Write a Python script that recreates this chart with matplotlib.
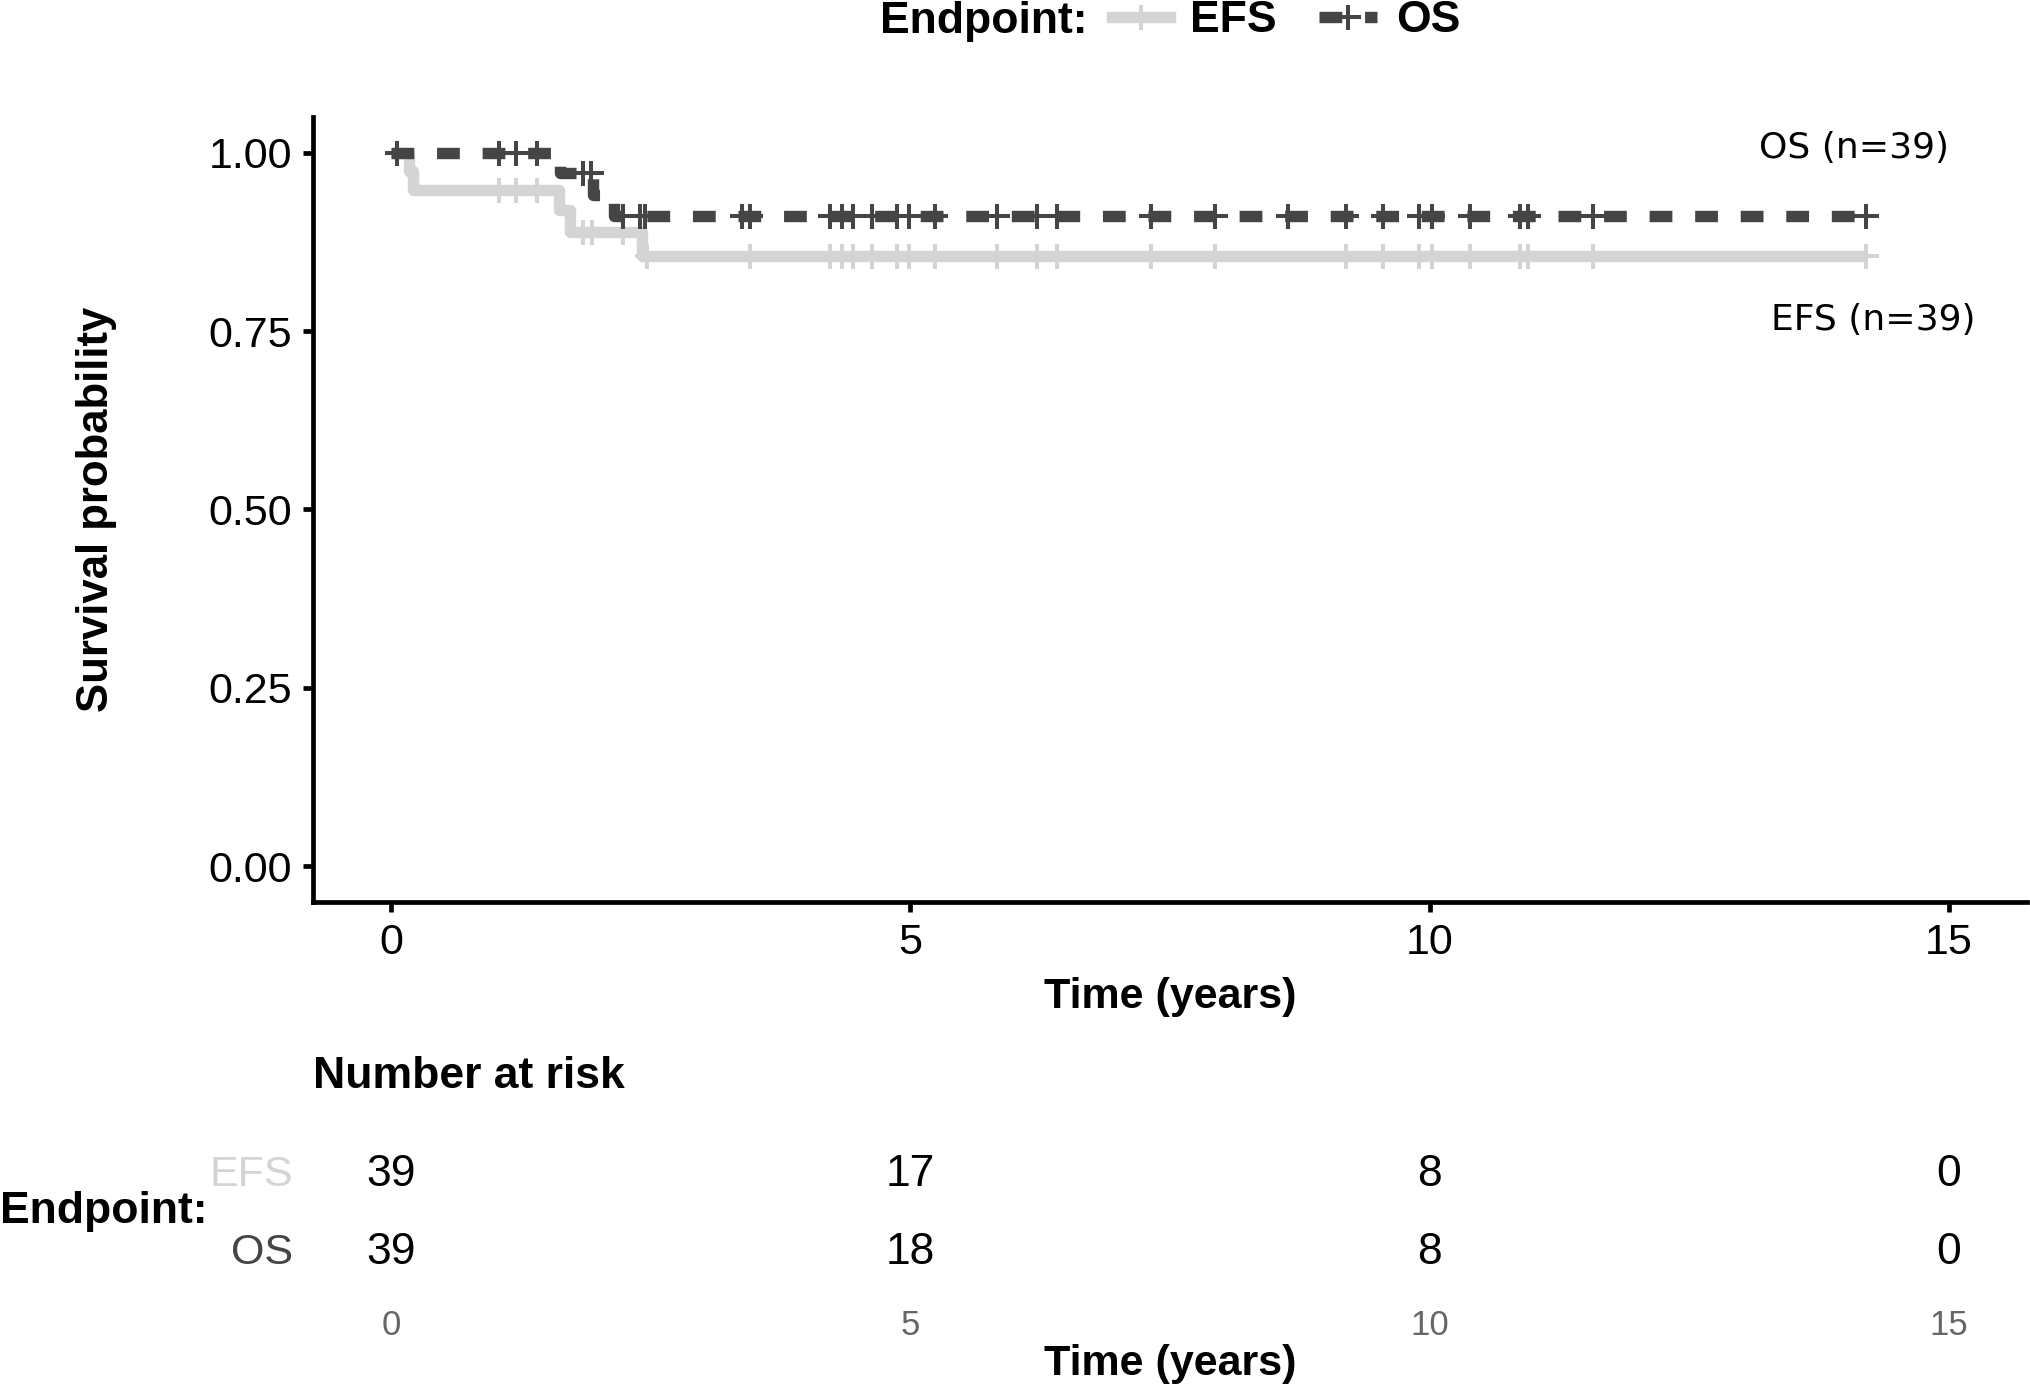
import numpy as np
import matplotlib
matplotlib.use("Agg")
import matplotlib.pyplot as plt
from matplotlib.lines import Line2D

plt.rcParams["font.family"] = ["Liberation Sans", "DejaVu Sans"]

# ---- data (years / survival) ----
efs_step_t = [0.0, 0.17, 0.21, 1.62, 1.72, 2.42, 14.2]
efs_step_s = [1.0, 0.974, 0.948, 0.920, 0.889, 0.855, 0.855]
efs_censors = [1.04, 1.20, 1.41, 1.85, 1.94, 2.23, 2.47, 3.46,
               4.23, 4.34, 4.45, 4.63, 4.87, 4.99,
               5.24, 5.83, 6.22, 6.41, 7.32, 7.93, 9.19, 9.55, 9.90,
               10.02, 10.39, 10.87, 10.95, 11.57, 14.20]

os_step_t = [0.0, 1.63, 1.95, 2.15, 14.2]
os_step_s = [1.0, 0.972, 0.941, 0.911, 0.911]
os_censors = [0.06, 1.04, 1.20, 1.41, 1.85, 1.93, 2.23, 2.40, 2.45, 3.38, 3.46,
              4.23, 4.34, 4.45, 4.63, 4.87, 4.99,
              5.24, 5.83, 6.22, 6.41, 7.32, 7.93, 8.64, 9.19, 9.55, 9.90,
              10.02, 10.39, 10.87, 10.95, 11.57, 14.20]

endpoints = ["EFS", "OS"]
colors = ["#D4D4D4", "#454545"]
n_labels = ["EFS (n=39)", "OS (n=39)"]
label_pos = [(14.27, 0.765), (14.08, 1.006)]

risk_times = [0, 5, 10, 15]
risk_efs = [39, 17, 8, 0]
risk_os = [39, 18, 8, 0]


def surv_at(xs, ys, t):
    i = np.searchsorted(xs, t, side="right") - 1
    return ys[i]


W, H = 2031, 1387
fig = plt.figure(figsize=(W / 100, H / 100), dpi=100)

def fx(p): return p / W
def fy(p): return 1 - p / H

ax = fig.add_axes([fx(313), fy(902), fx(2027 - 313), (902 - 117) / H])

curves = [(efs_step_t, efs_step_s, efs_censors), (os_step_t, os_step_s, os_censors)]
for k, (xs, ys, ce) in enumerate(curves):
    xs = np.array(xs)
    ys = np.array(ys)
    ls = "-" if k == 0 else (0, (2.0, 2.0))
    ax.step(xs, ys, where="post", color=colors[k], lw=8.2, ls=ls,
            solid_capstyle="butt", dash_capstyle="butt", solid_joinstyle="round",
            zorder=2 + k)
    cy = [surv_at(xs, ys, t) for t in ce]
    ax.plot(ce, cy, ls="none", marker="+", ms=18, mew=2.9, color=colors[k], zorder=2 + k)
    ax.text(label_pos[k][0], label_pos[k][1], n_labels[k], ha="center", va="center",
            fontsize=26, family="DejaVu Sans")

ax.set_xlim(-0.75, 15.75)
ax.set_ylim(-0.05, 1.05)
ax.set_xticks([0, 5, 10, 15])
ax.set_yticks([0, 0.25, 0.5, 0.75, 1.0])
ax.set_yticklabels(["0.00", "0.25", "0.50", "0.75", "1.00"])
for s in ["top", "right"]:
    ax.spines[s].set_visible(False)
for s in ["left", "bottom"]:
    ax.spines[s].set_linewidth(3.4)
ax.tick_params(width=3.4, length=7.2, labelsize=31, pad=8)
ax.set_xlabel("Time (years)", fontsize=31, fontweight="bold", labelpad=10)
ax.set_ylabel("Survival probability", fontsize=31.5, fontweight="bold", labelpad=66)

# legend on top
fig.text(fx(880), fy(21), "Endpoint:", fontsize=32, fontweight="bold", ha="left", va="center")
handles = [Line2D([], [], color=colors[0], lw=8.2, marker="+", ms=18, mew=2.9),
           Line2D([], [], color=colors[1], lw=8.2, ls=(0, (2.0, 2.0)), marker="+", ms=18, mew=2.9)]
leg = fig.legend(handles, endpoints, ncol=2, loc="center left", bbox_to_anchor=(fx(1090), fy(21)),
                 frameon=False, handlelength=1.3, handletextpad=0.45, columnspacing=0.95,
                 borderpad=0, prop={"size": 32, "weight": "bold"})

# risk table
rax = fig.add_axes([fx(313), fy(1292), fx(2027 - 313), 156 / H])
rax.set_xlim(-0.75, 15.75)
rax.set_ylim(0, 1)
for t, a, b in zip(risk_times, risk_efs, risk_os):
    rax.text(t, 0.75, str(a), ha="center", va="center", fontsize=32)
    rax.text(t, 0.25, str(b), ha="center", va="center", fontsize=32)
rax.set_yticks([0.75, 0.25])
rax.set_yticklabels(endpoints)
for lab, c in zip(rax.get_yticklabels(), colors):
    lab.set_color(c)
    lab.set_va("center")
rax.set_xticks(risk_times)
rax.tick_params(length=0, labelsize=31, pad=14)
rax.tick_params(axis="x", labelsize=25, labelcolor="#666666", pad=12)
for s in rax.spines.values():
    s.set_visible(False)
rax.set_xlabel("Time (years)", fontsize=31, fontweight="bold", labelpad=2)
fig.text(fx(313), fy(1077), "Number at risk", fontsize=32, fontweight="bold", ha="left", va="center")
fig.text(0, fy(1212), "Endpoint:", fontsize=32, fontweight="bold", ha="left", va="center")

fig.savefig("out.png", dpi=100, facecolor="white")
